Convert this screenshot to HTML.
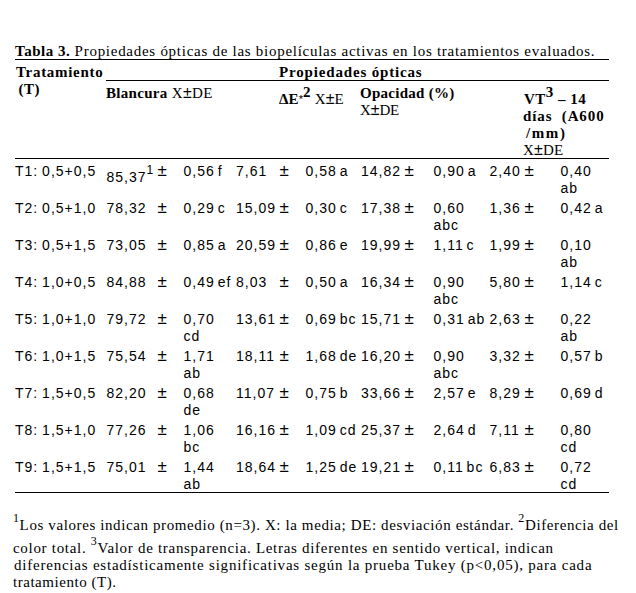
<!DOCTYPE html>
<html><head><meta charset="utf-8"><style>
html,body{margin:0;padding:0;background:#fff;}
body{width:636px;height:593px;position:relative;overflow:hidden;font-family:"Liberation Sans",sans-serif;color:#000;}
.t{position:absolute;white-space:pre;}
.t.b{font-size:14px;line-height:14px;letter-spacing:1.0px;font-weight:400;}
.t.pm{font-size:17px;line-height:17px;letter-spacing:0px;font-weight:400;}
.t.lb{font-size:14px;line-height:14px;letter-spacing:1.0px;font-weight:400;}
.t.h{font-size:15px;line-height:15px;letter-spacing:0.5px;font-weight:700;font-family:"Liberation Serif",serif;}
.t.hm{font-size:14px;line-height:14px;letter-spacing:0.55px;font-weight:400;}
.t.cap{font-size:14px;line-height:14px;letter-spacing:0.45px;font-weight:400;}
.t.f{font-size:13.5px;line-height:13.5px;letter-spacing:0.7px;font-weight:400;}
.t.capS{font-size:15px;line-height:15px;letter-spacing:0.9px;font-weight:400;font-family:"Liberation Serif",serif;}
.t.fS{font-size:15px;line-height:15px;letter-spacing:1.0px;font-weight:400;font-family:"Liberation Serif",serif;}

.t.b{word-spacing:-2px;}
.xs{font-family:"Liberation Serif",serif;font-size:15px;}
.pmh{font-family:"Liberation Sans",sans-serif;font-size:16px;}
.t b.tb{letter-spacing:0.5px;}
.t.lb{word-spacing:-1px;}
.t b{font-weight:700;font-family:"Liberation Serif",serif;font-size:15px;}
.bs,.fs,.hs{font-size:10px;position:relative;vertical-align:baseline;line-height:0;}
.bs{top:-8px;font-size:12px;}
.hs{top:-7px;font-weight:700;font-family:"Liberation Serif",serif;font-size:12px;}
.fs{top:-8px;font-size:12px;}
.ast{font-size:11px;position:relative;top:-1px;}
.r{position:absolute;background:#000;}
</style></head>
<body>
<div class="r" style="left:15px;top:59px;width:594px;height:1px"></div>
<div class="r" style="left:106px;top:80px;width:503px;height:1px"></div>
<div class="r" style="left:15px;top:158px;width:594px;height:1px"></div>
<div class="r" style="left:15px;top:492px;width:594px;height:1px"></div>
<div class="t capS" style="left:15.00px;top:44.44px;letter-spacing:0.726px"><b class="tb">Tabla 3.</b> Propiedades ópticas de las biopelículas activas en los tratamientos evaluados.</div>
<div class="t h" style="left:16.00px;top:65.44px;letter-spacing:0.700px">Tratamiento</div>
<div class="t h" style="left:18.50px;top:82.44px">(T)</div>
<div class="t h" style="left:279.00px;top:65.44px;letter-spacing:0.833px">Propiedades ópticas</div>
<div class="t hm" style="left:106.00px;top:86.15px;letter-spacing:0.300px"><b>Blancura</b> <span class="xs">X<span class="pmh">±</span>DE</span></div>
<div class="t hm" style="left:279.00px;top:92.15px;letter-spacing:0.121px"><b>ΔE</b><span class="ast">*</span><b class="hs">2</b> <span class="xs">X<span class="pmh">±</span>E</span></div>
<div class="t hm" style="left:360.00px;top:86.15px;letter-spacing:0.277px"><b>Opacidad (%)</b></div>
<div class="t hm" style="left:360.00px;top:103.15px;letter-spacing:-0.117px"><span class="xs">X<span class="pmh">±</span>DE</span></div>
<div class="t h" style="left:524.00px;top:92.44px">VT<b class="hs">3</b> – 14</div>
<div class="t h" style="left:523.00px;top:109.44px;letter-spacing:0.900px">días&nbsp; (A600</div>
<div class="t h" style="left:526.00px;top:126.44px;letter-spacing:1.600px">/mm)</div>
<div class="t hm" style="left:523.00px;top:142.65px;letter-spacing:0.217px"><span class="xs">X<span class="pmh">±</span>DE</span></div>
<div class="t lb" style="left:15.00px;top:164.15px">T1: 0,5+0,5</div>
<div class="t b" style="left:106.50px;top:170.15px">85,37<span class="bs">1</span></div>
<div class="t pm" style="left:157.50px;top:161.61px">±</div>
<div class="t b" style="left:183.50px;top:164.15px">0,56 f</div>
<div class="t b" style="left:236.00px;top:164.15px">7,61</div>
<div class="t pm" style="left:279.50px;top:161.61px">±</div>
<div class="t b" style="left:305.50px;top:164.15px">0,58 a</div>
<div class="t b" style="left:361.00px;top:164.15px">14,82</div>
<div class="t pm" style="left:404.50px;top:161.61px">±</div>
<div class="t b" style="left:433.50px;top:164.15px">0,90 a</div>
<div class="t b" style="left:489.50px;top:164.15px">2,40</div>
<div class="t pm" style="left:524.50px;top:161.61px">±</div>
<div class="t b" style="left:560.50px;top:164.15px">0,40</div>
<div class="t b" style="left:560.50px;top:181.15px">ab</div>
<div class="t lb" style="left:15.00px;top:201.15px">T2: 0,5+1,0</div>
<div class="t b" style="left:106.50px;top:201.15px">78,32</div>
<div class="t pm" style="left:157.50px;top:198.61px">±</div>
<div class="t b" style="left:183.50px;top:201.15px">0,29 c</div>
<div class="t b" style="left:236.00px;top:201.15px">15,09</div>
<div class="t pm" style="left:279.50px;top:198.61px">±</div>
<div class="t b" style="left:305.50px;top:201.15px">0,30 c</div>
<div class="t b" style="left:361.00px;top:201.15px">17,38</div>
<div class="t pm" style="left:404.50px;top:198.61px">±</div>
<div class="t b" style="left:433.50px;top:201.15px">0,60</div>
<div class="t b" style="left:433.50px;top:218.15px">abc</div>
<div class="t b" style="left:489.50px;top:201.15px">1,36</div>
<div class="t pm" style="left:524.50px;top:198.61px">±</div>
<div class="t b" style="left:560.50px;top:201.15px">0,42 a</div>
<div class="t lb" style="left:15.00px;top:238.15px">T3: 0,5+1,5</div>
<div class="t b" style="left:106.50px;top:238.15px">73,05</div>
<div class="t pm" style="left:157.50px;top:235.61px">±</div>
<div class="t b" style="left:183.50px;top:238.15px">0,85 a</div>
<div class="t b" style="left:236.00px;top:238.15px">20,59</div>
<div class="t pm" style="left:279.50px;top:235.61px">±</div>
<div class="t b" style="left:305.50px;top:238.15px">0,86 e</div>
<div class="t b" style="left:361.00px;top:238.15px">19,99</div>
<div class="t pm" style="left:404.50px;top:235.61px">±</div>
<div class="t b" style="left:433.50px;top:238.15px">1,11 c</div>
<div class="t b" style="left:489.50px;top:238.15px">1,99</div>
<div class="t pm" style="left:524.50px;top:235.61px">±</div>
<div class="t b" style="left:560.50px;top:238.15px">0,10</div>
<div class="t b" style="left:560.50px;top:255.15px">ab</div>
<div class="t lb" style="left:15.00px;top:275.15px">T4: 1,0+0,5</div>
<div class="t b" style="left:106.50px;top:275.15px">84,88</div>
<div class="t pm" style="left:157.50px;top:272.61px">±</div>
<div class="t b" style="left:183.50px;top:275.15px">0,49 ef</div>
<div class="t b" style="left:236.00px;top:275.15px">8,03</div>
<div class="t pm" style="left:279.50px;top:272.61px">±</div>
<div class="t b" style="left:305.50px;top:275.15px">0,50 a</div>
<div class="t b" style="left:361.00px;top:275.15px">16,34</div>
<div class="t pm" style="left:404.50px;top:272.61px">±</div>
<div class="t b" style="left:433.50px;top:275.15px">0,90</div>
<div class="t b" style="left:433.50px;top:292.15px">abc</div>
<div class="t b" style="left:489.50px;top:275.15px">5,80</div>
<div class="t pm" style="left:524.50px;top:272.61px">±</div>
<div class="t b" style="left:560.50px;top:275.15px">1,14 c</div>
<div class="t lb" style="left:15.00px;top:312.15px">T5: 1,0+1,0</div>
<div class="t b" style="left:106.50px;top:312.15px">79,72</div>
<div class="t pm" style="left:157.50px;top:309.61px">±</div>
<div class="t b" style="left:183.50px;top:312.15px">0,70</div>
<div class="t b" style="left:183.50px;top:329.15px">cd</div>
<div class="t b" style="left:236.00px;top:312.15px">13,61</div>
<div class="t pm" style="left:279.50px;top:309.61px">±</div>
<div class="t b" style="left:305.50px;top:312.15px">0,69 bc</div>
<div class="t b" style="left:361.00px;top:312.15px">15,71</div>
<div class="t pm" style="left:404.50px;top:309.61px">±</div>
<div class="t b" style="left:433.50px;top:312.15px">0,31 ab</div>
<div class="t b" style="left:489.50px;top:312.15px">2,63</div>
<div class="t pm" style="left:524.50px;top:309.61px">±</div>
<div class="t b" style="left:560.50px;top:312.15px">0,22</div>
<div class="t b" style="left:560.50px;top:329.15px">ab</div>
<div class="t lb" style="left:15.00px;top:349.15px">T6: 1,0+1,5</div>
<div class="t b" style="left:106.50px;top:349.15px">75,54</div>
<div class="t pm" style="left:157.50px;top:346.61px">±</div>
<div class="t b" style="left:183.50px;top:349.15px">1,71</div>
<div class="t b" style="left:183.50px;top:366.15px">ab</div>
<div class="t b" style="left:236.00px;top:349.15px">18,11</div>
<div class="t pm" style="left:279.50px;top:346.61px">±</div>
<div class="t b" style="left:305.50px;top:349.15px">1,68 de</div>
<div class="t b" style="left:361.00px;top:349.15px">16,20</div>
<div class="t pm" style="left:404.50px;top:346.61px">±</div>
<div class="t b" style="left:433.50px;top:349.15px">0,90</div>
<div class="t b" style="left:433.50px;top:366.15px">abc</div>
<div class="t b" style="left:489.50px;top:349.15px">3,32</div>
<div class="t pm" style="left:524.50px;top:346.61px">±</div>
<div class="t b" style="left:560.50px;top:349.15px">0,57 b</div>
<div class="t lb" style="left:15.00px;top:386.15px">T7: 1,5+0,5</div>
<div class="t b" style="left:106.50px;top:386.15px">82,20</div>
<div class="t pm" style="left:157.50px;top:383.61px">±</div>
<div class="t b" style="left:183.50px;top:386.15px">0,68</div>
<div class="t b" style="left:183.50px;top:403.15px">de</div>
<div class="t b" style="left:236.00px;top:386.15px">11,07</div>
<div class="t pm" style="left:279.50px;top:383.61px">±</div>
<div class="t b" style="left:305.50px;top:386.15px">0,75 b</div>
<div class="t b" style="left:361.00px;top:386.15px">33,66</div>
<div class="t pm" style="left:404.50px;top:383.61px">±</div>
<div class="t b" style="left:433.50px;top:386.15px">2,57 e</div>
<div class="t b" style="left:489.50px;top:386.15px">8,29</div>
<div class="t pm" style="left:524.50px;top:383.61px">±</div>
<div class="t b" style="left:560.50px;top:386.15px">0,69 d</div>
<div class="t lb" style="left:15.00px;top:423.15px">T8: 1,5+1,0</div>
<div class="t b" style="left:106.50px;top:423.15px">77,26</div>
<div class="t pm" style="left:157.50px;top:420.61px">±</div>
<div class="t b" style="left:183.50px;top:423.15px">1,06</div>
<div class="t b" style="left:183.50px;top:440.15px">bc</div>
<div class="t b" style="left:236.00px;top:423.15px">16,16</div>
<div class="t pm" style="left:279.50px;top:420.61px">±</div>
<div class="t b" style="left:305.50px;top:423.15px">1,09 cd</div>
<div class="t b" style="left:361.00px;top:423.15px">25,37</div>
<div class="t pm" style="left:404.50px;top:420.61px">±</div>
<div class="t b" style="left:433.50px;top:423.15px">2,64 d</div>
<div class="t b" style="left:489.50px;top:423.15px">7,11</div>
<div class="t pm" style="left:524.50px;top:420.61px">±</div>
<div class="t b" style="left:560.50px;top:423.15px">0,80</div>
<div class="t b" style="left:560.50px;top:440.15px">cd</div>
<div class="t lb" style="left:15.00px;top:460.15px">T9: 1,5+1,5</div>
<div class="t b" style="left:106.50px;top:460.15px">75,01</div>
<div class="t pm" style="left:157.50px;top:457.61px">±</div>
<div class="t b" style="left:183.50px;top:460.15px">1,44</div>
<div class="t b" style="left:183.50px;top:477.15px">ab</div>
<div class="t b" style="left:236.00px;top:460.15px">18,64</div>
<div class="t pm" style="left:279.50px;top:457.61px">±</div>
<div class="t b" style="left:305.50px;top:460.15px">1,25 de</div>
<div class="t b" style="left:361.00px;top:460.15px">19,21</div>
<div class="t pm" style="left:404.50px;top:457.61px">±</div>
<div class="t b" style="left:433.50px;top:460.15px">0,11 bc</div>
<div class="t b" style="left:489.50px;top:460.15px">6,83</div>
<div class="t pm" style="left:524.50px;top:457.61px">±</div>
<div class="t b" style="left:560.50px;top:460.15px">0,72</div>
<div class="t b" style="left:560.50px;top:477.15px">cd</div>
<div class="t fS" style="left:13.00px;top:517.93px;letter-spacing:0.608px"><span class="fs">1</span>Los valores indican promedio (n=3). X: la media; DE: desviación estándar. <span class="fs">2</span>Diferencia del</div>
<div class="t fS" style="left:13.00px;top:540.93px;letter-spacing:0.699px">color total. <span class="fs">3</span>Valor de transparencia. Letras diferentes en sentido vertical, indican</div>
<div class="t fS" style="left:14.00px;top:557.93px;letter-spacing:0.780px">diferencias estadísticamente significativas según la prueba Tukey (p&lt;0,05), para cada</div>
<div class="t fS" style="left:13.00px;top:574.68px;letter-spacing:0.534px">tratamiento (T).</div>
</body></html>
